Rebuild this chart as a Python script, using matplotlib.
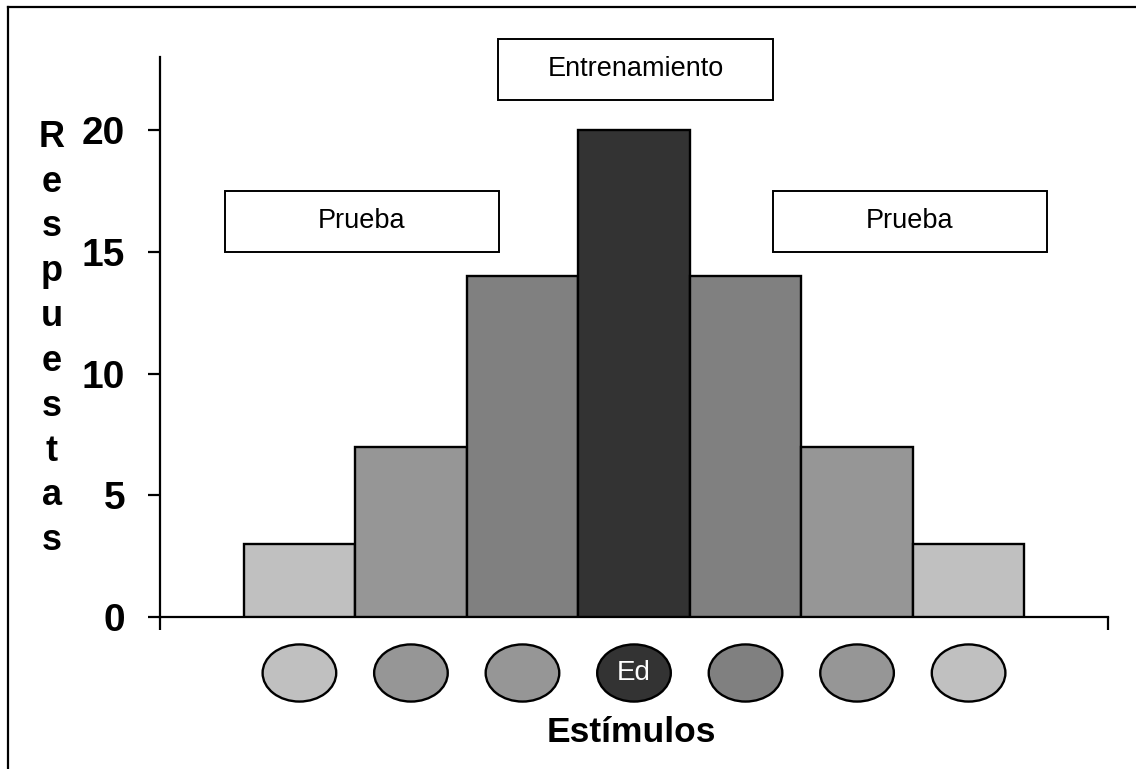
import matplotlib
matplotlib.use('Agg')
import matplotlib.pyplot as plt
from matplotlib.patches import Ellipse, Rectangle
from matplotlib.lines import Line2D

plt.rcParams['font.family'] = ['Liberation Sans', 'DejaVu Sans']

# =====================================================================
# Datos
# =====================================================================
estimulos = [0, 1, 2, 3, 4, 5, 6]
respuestas = [3, 7, 14, 20, 14, 7, 3]
colores_barras = ['#C0C0C0', '#969696', '#808080', '#333333', '#808080', '#969696', '#C0C0C0']
colores_elipses = ['#C0C0C0', '#969696', '#969696', '#333333', '#808080', '#969696', '#C0C0C0']
etiqueta_centro = 'Ed'
yticks = [0, 5, 10, 15, 20]

# Cajas de texto (en píxeles de la figura: x0, y0 arriba, ancho, alto)
cajas = [('Entrenamiento', 498, 39, 275, 61),
         ('Prueba', 225, 191, 274, 61),
         ('Prueba', 773, 191, 274, 61)]

W, H = 1136, 769
fig = plt.figure(figsize=(W / 100, H / 100), dpi=100)
ax = fig.add_axes([160 / W, 1 - 617 / H, 948 / W, 560 / H])

# Barras
ax.bar(estimulos, respuestas, width=1.0, color=colores_barras,
       edgecolor='black', linewidth=1.7, zorder=3)

ax.set_xlim(-1.25, 7.25)
ax.set_ylim(0, 23)

for s in ['top', 'right']:
    ax.spines[s].set_visible(False)
for s in ['left', 'bottom']:
    ax.spines[s].set_linewidth(1.6)

ax.set_yticks(yticks)
ax.set_yticklabels([str(v) for v in yticks], fontsize=28, fontweight='bold')
ax.tick_params(axis='y', direction='out', length=9, width=1.6, pad=16)
ax.set_xticks([-1.25, 7.25])
ax.set_xticklabels([])
ax.tick_params(axis='x', direction='out', length=9, width=1.6)

# Elipses bajo cada barra
trans = ax.get_xaxis_transform()
for x, c in zip(estimulos, colores_elipses):
    e = Ellipse((x, -0.1), width=0.66, height=0.102, transform=trans,
                facecolor=c, edgecolor='black', linewidth=1.7, clip_on=False)
    ax.add_patch(e)
ax.text(3, -0.1, etiqueta_centro, transform=trans, ha='center', va='center',
        color='white', fontsize=20, clip_on=False)

# Etiquetas de ejes
fig.text(631 / W, 1 - 733 / H, 'Estímulos', ha='center', va='center',
         fontsize=25.5, fontweight='bold')
fig.text(52 / W, 1 - 339 / H, '\n'.join('Respuestas'), ha='center', va='center',
         fontsize=26, fontweight='bold', linespacing=1.365)

# Cajas de texto
for texto, x0, y0, w, h in cajas:
    fig.add_artist(Rectangle((x0 / W, 1 - (y0 + h) / H), w / W, h / H,
                             transform=fig.transFigure, facecolor='white',
                             edgecolor='black', linewidth=1.4))
    fig.text((x0 + w / 2) / W, 1 - (y0 + h / 2) / H, texto, ha='center',
             va='center', fontsize=19.5)

# Marco de la figura
fig.add_artist(Line2D([8 / W, 1.01], [1 - 7 / H, 1 - 7 / H], color='black',
                      linewidth=1.6, transform=fig.transFigure))
fig.add_artist(Line2D([8 / W, 8 / W], [1 - 7 / H, -0.01], color='black',
                      linewidth=1.6, transform=fig.transFigure))

fig.savefig('out.png', dpi=100)
